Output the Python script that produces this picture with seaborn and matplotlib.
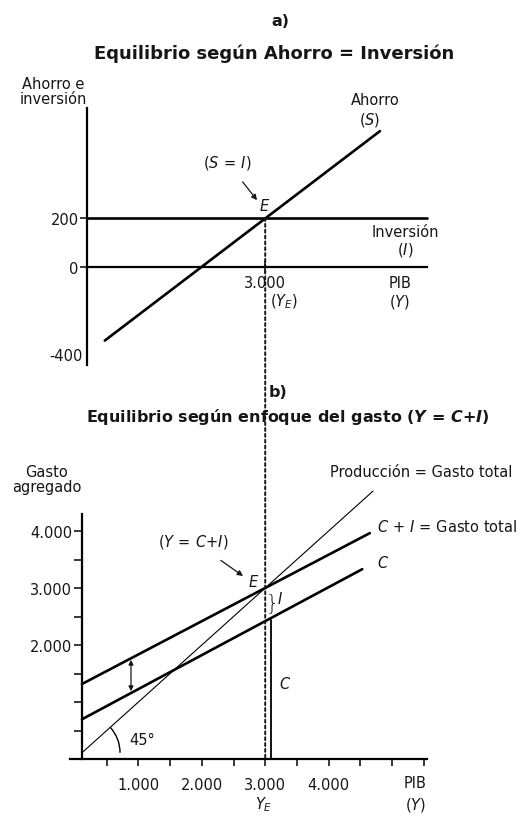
"""
    Modelo keynesiano simple: equilibrio ahorro = inversion (a)
    y equilibrio segun el enfoque del gasto Y = C + I (b).
"""

import matplotlib
matplotlib.use("Agg")
from matplotlib import pyplot as plt
from matplotlib import transforms
from matplotlib.patches import Arc, ConnectionPatch
import seaborn as sns

# ---- datos panel a) ----
AHORRO_X = [470, 4810]
AHORRO_Y = [-300, 555]
INVERSION_X = [190, 5550]
INVERSION_Y = [200, 200]
PIB_EQ = 3000
A_YTICKS = [-400, 0, 200]
A_YTICK_LABELS = ['-400', '0', '200']

# ---- datos panel b) ----
C_MAS_I_X = [110, 4650]
C_MAS_I_Y = [1316, 3963]
C_X = [110, 4530]
C_Y = [697, 3330]
LINEA45_X = [110, 4700]
LINEA45_Y = [110, 4700]
C_EN_EQ_X = 3090
C_EN_EQ_Y = 2440
B_XTICKS = [500, 1000, 1500, 2000, 2500, 3000, 3500, 4000, 4500, 5000, 5500]
B_XTICK_LABELS = ['', '1.000', '', '2.000', '', '3.000', '', '4.000', '', '', '']
B_YTICKS = [500, 1000, 1500, 2000, 2500, 3000, 3500, 4000]
B_YTICK_LABELS = ['', '', '', '2.000', '', '3.000', '', '4.000']

sns.set_theme(style='white')
plt.rcParams['font.family'] = ['DejaVu Sans']
plt.rcParams['mathtext.fontset'] = 'custom'
plt.rcParams['mathtext.rm'] = 'DejaVu Sans'
plt.rcParams['mathtext.it'] = 'DejaVu Sans:italic'
plt.rcParams['mathtext.bf'] = 'DejaVu Sans:bold:italic'

W, H = 530, 820
fig = plt.figure(figsize=(W / 100, H / 100), dpi=100)
fig.patch.set_facecolor('white')

XLIM = (-552, 6703)
ax1 = fig.add_axes([40 / W, (H - 370) / H, 460 / W, 270 / H])
ax2 = fig.add_axes([40 / W, (H - 770) / H, 460 / W, 310 / H])
for ax in (ax1, ax2):
    ax.set_facecolor('none')
    ax.set_xlim(*XLIM)
    ax.spines['top'].set_visible(False)
    ax.spines['right'].set_visible(False)
    ax.spines['left'].set_linewidth(1.6)
    ax.spines['bottom'].set_linewidth(1.6)
    ax.spines['left'].set_color('black')
    ax.spines['bottom'].set_color('black')

INK = '#161616'
FS = 10.5
TXT = dict(color=INK, fontsize=FS, clip_on=False)

# ======================= panel a) =======================
ax1.set_ylim(-416, 686)
sns.lineplot(x=AHORRO_X, y=AHORRO_Y, ax=ax1, color='black', lw=1.9)
sns.lineplot(x=INVERSION_X, y=INVERSION_Y, ax=ax1, color='black', lw=1.9)

ax1.spines['left'].set_position(('data', 190))
ax1.spines['left'].set_bounds(-400, 650)
ax1.spines['bottom'].set_position(('data', 0))
ax1.spines['bottom'].set_bounds(190, 5550)
ax1.set_yticks(A_YTICKS, A_YTICK_LABELS)
ax1.set_xticks([PIB_EQ], ['3.000'])
ax1.tick_params(axis='y', direction='out', length=5, width=1.2, pad=1,
                labelsize=FS, colors=INK, left=True)
ax1.tick_params(axis='x', direction='inout', length=8, width=1.2, pad=2,
                labelsize=FS, colors=INK, bottom=True)
# la etiqueta -400 va pegada al eje, sin marca y algo mas arriba
tick_400 = ax1.yaxis.get_major_ticks()[0]
tick_400.tick1line.set_visible(False)
tick_400.label1.set_transform(tick_400.label1.get_transform() +
                              transforms.ScaledTranslation(3 / 72, 8 / 72, fig.dpi_scale_trans))

ax1.text(4732, 682, 'Ahorro', ha='center', va='center', **TXT)
ax1.text(4653, 604, '$(S)$', ha='center', va='center', **TXT)
ax1.text(5205, 147, 'Inversión', ha='center', va='center', **TXT)
ax1.text(5205, 73, '$(I)$', ha='center', va='center', **TXT)
ax1.text(5126, -61, 'PIB', ha='center', va='center', **TXT)
ax1.text(5126, -139, '$(Y)$', ha='center', va='center', **TXT)
ax1.text(3297, -139, '$(Y_E)$', ha='center', va='center', **TXT)
ax1.text(2997, 255, '$E$', ha='center', va='center', **TXT)
ax1.annotate('$(S\\,=\\,I)$', xy=(2871, 273), xytext=(2397, 429),
             ha='center', va='center', fontsize=FS, color=INK,
             arrowprops=dict(arrowstyle='-|>', color=INK, lw=0.9,
                             mutation_scale=8, shrinkA=7, shrinkB=0))

# ======================= panel b) =======================
ax2.set_ylim(-175, 5263)
sns.lineplot(x=LINEA45_X, y=LINEA45_Y, ax=ax2, color='black', lw=0.8)
sns.lineplot(x=C_MAS_I_X, y=C_MAS_I_Y, ax=ax2, color='black', lw=1.9)
sns.lineplot(x=C_X, y=C_Y, ax=ax2, color='black', lw=1.9)
ax2.plot([C_EN_EQ_X, C_EN_EQ_X], [0, C_EN_EQ_Y], color='black', lw=1.3)

ax2.spines['left'].set_position(('data', 110))
ax2.spines['left'].set_bounds(0, 4300)
ax2.spines['bottom'].set_position(('data', 0))
ax2.spines['bottom'].set_bounds(-80, 5550)
ax2.set_xticks(B_XTICKS, B_XTICK_LABELS)
ax2.set_yticks(B_YTICKS, B_YTICK_LABELS)
ax2.tick_params(axis='x', direction='out', length=5, width=1.2, pad=8,
                labelsize=FS, colors=INK, bottom=True)
ax2.tick_params(axis='y', direction='out', length=6, width=1.2, pad=1,
                labelsize=FS, colors=INK, left=True)

# doble flecha (inversion autonoma) y arco de 45 grados
ax2.annotate('', xy=(883, 1190), xytext=(883, 1740),
             arrowprops=dict(arrowstyle='<|-|>', color=INK, lw=0.9,
                             mutation_scale=7, shrinkA=0, shrinkB=0))
ax2.add_patch(Arc((110, 110), 1200, 1333, theta1=0, theta2=45,
                  color='black', lw=1.0))
ax2.text(1057, 351, '45°', ha='center', va='center', **TXT)

ax2.text(5457, 5035, 'Producción = Gasto total', ha='center', va='center', **TXT)
ax2.text(4763, 4088, '$C\\,+\\,I$ = Gasto total', ha='left', va='center', **TXT)
ax2.text(4763, 3456, '$C$', ha='left', va='center', **TXT)
ax2.text(2823, 3123, '$E$', ha='center', va='center', **TXT)
ax2.text(3110, 2760, '}', ha='center', va='center', fontsize=15,
         color=INK, fontweight='light', clip_on=False)
ax2.text(3240, 2825, '$I$', ha='center', va='center', **TXT)
ax2.text(3312, 1333, '$C$', ha='center', va='center', **TXT)
ax2.text(5363, -404, 'PIB', ha='center', va='center', **TXT)
ax2.text(5363, -789, '$(Y)$', ha='center', va='center', **TXT)
ax2.text(2981, -789, '$Y_E$', ha='center', va='center', **TXT)
ax2.annotate('$(Y\\,=\\,C{+}I)$', xy=(2650, 3211), xytext=(1861, 3825),
             ha='center', va='center', fontsize=FS, color=INK,
             arrowprops=dict(arrowstyle='-|>', color=INK, lw=0.9,
                             mutation_scale=8, shrinkA=9, shrinkB=0))

# linea punteada del PIB de equilibrio que cruza ambos paneles
con = ConnectionPatch(xyA=(PIB_EQ, 200), coordsA=ax1.transData,
                      xyB=(PIB_EQ, 0), coordsB=ax2.transData,
                      color=INK, lw=1.4, linestyle=(0, (1.5, 1.5)))
fig.add_artist(con)

# titulos y etiquetas de ejes
fig.text(280 / W, 1 - 21 / H, 'a)', ha='center', va='center',
         fontsize=11.5, fontweight='bold', color=INK)
fig.text(274 / W, 1 - 54 / H, 'Equilibrio según Ahorro = Inversión',
         ha='center', va='center', fontsize=13, fontweight='bold', color=INK)
fig.text(53 / W, 1 - 92 / H, 'Ahorro e\ninversión', ha='center', va='center',
         fontsize=FS, color=INK, linespacing=0.95)
fig.text(278 / W, 1 - 393 / H, 'b)', ha='center', va='center',
         fontsize=11.5, fontweight='bold', color=INK)
fig.text(288 / W, 1 - 417 / H,
         'Equilibrio según enfoque del gasto ($\\mathbf{Y\\,=\\,C{+}I}$)',
         ha='center', va='center', fontsize=11.5, fontweight='bold', color=INK)
fig.text(47 / W, 1 - 480 / H, 'Gasto\nagregado', ha='center', va='center',
         fontsize=FS, color=INK, linespacing=0.95)

plt.savefig('out.png', dpi=100)
